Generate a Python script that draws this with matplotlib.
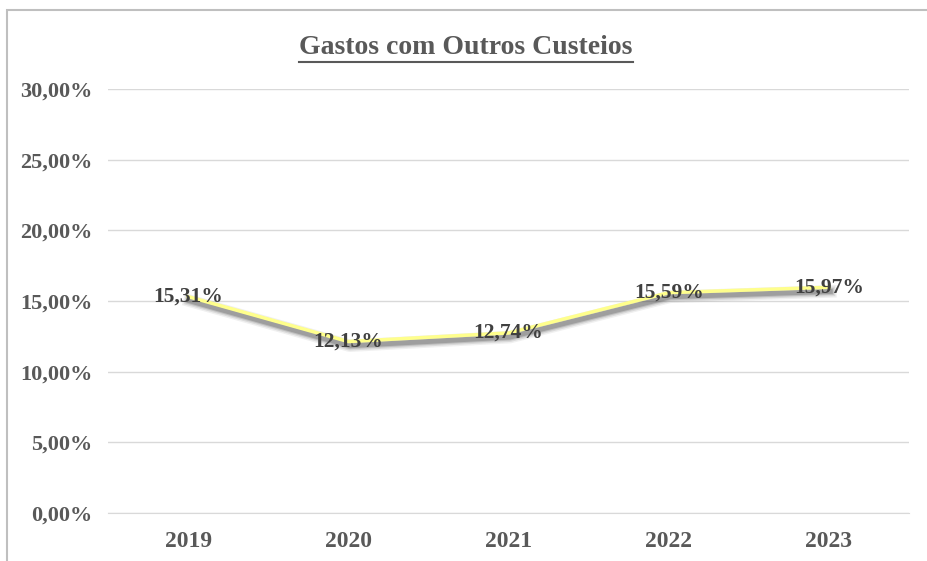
import matplotlib.pyplot as plt
import matplotlib.patheffects as pe
from matplotlib.patches import Rectangle
from matplotlib.ticker import FuncFormatter

# dados do gráfico
anos = ["2019", "2020", "2021", "2022", "2023"]
gastos = [15.31, 12.13, 12.74, 15.59, 15.97]

plt.rcParams["font.family"] = ["Liberation Serif", "DejaVu Serif"]
plt.rcParams["font.weight"] = "bold"

fig = plt.figure(figsize=(9.28, 5.61), dpi=100)
ax = fig.add_axes([108 / 928, 1 - 513 / 561, (909 - 108) / 928, (513 - 89) / 561])

# moldura externa do gráfico
fig.patches.append(Rectangle((7 / 928, -0.05), 1.05, 1 - 10 / 561 + 0.05,
                             transform=fig.transFigure, fill=False,
                             edgecolor="#bfbfbf", linewidth=1.5))

# sombra difusa sob a linha
sombra = [pe.SimpleLineShadow(offset=(1, -3), shadow_color="#404040", alpha=a, linewidth=w)
          for w, a in [(9, 0.08), (7, 0.12), (5, 0.18), (3.5, 0.25)]]

x = range(len(anos))
ax.plot(x, gastos, color="#ffff8c", linewidth=2.5, solid_joinstyle="round",
        path_effects=sombra + [pe.Normal()])

for xi, v in zip(x, gastos):
    ax.text(xi, v, f"{v:.2f}%".replace(".", ","), ha="center", va="center",
            fontsize=15.5, fontweight="bold", color="#404040")

ax.set_xlim(-0.5, len(anos) - 0.5)
ax.set_ylim(0, 30)
ax.set_yticks(range(0, 31, 5))
ax.yaxis.set_major_formatter(FuncFormatter(lambda v, p: f"{v:.2f}%".replace(".", ",")))
ax.set_xticks(list(x))
ax.set_xticklabels(anos)

ax.grid(axis="y", color="#d9d9d9", linewidth=1)
ax.set_axisbelow(True)
for s in ["top", "right", "left"]:
    ax.spines[s].set_visible(False)
ax.spines["bottom"].set_color("#d9d9d9")
ax.tick_params(axis="both", length=0, labelcolor="#595959")
ax.tick_params(axis="y", pad=11, labelsize=16)
ax.tick_params(axis="x", pad=13, labelsize=17)

fig.text(466 / 928, 1 - 47 / 561, "Gastos com Outros Custeios", ha="center", va="center",
         fontsize=20, fontweight="bold", color="#595959")
# sublinhado do título
fig.add_artist(plt.Line2D([299 / 928, 633 / 928], [1 - 62 / 561, 1 - 62 / 561],
                          color="#595959", linewidth=1.5))

fig.savefig("out.png", dpi=100)
